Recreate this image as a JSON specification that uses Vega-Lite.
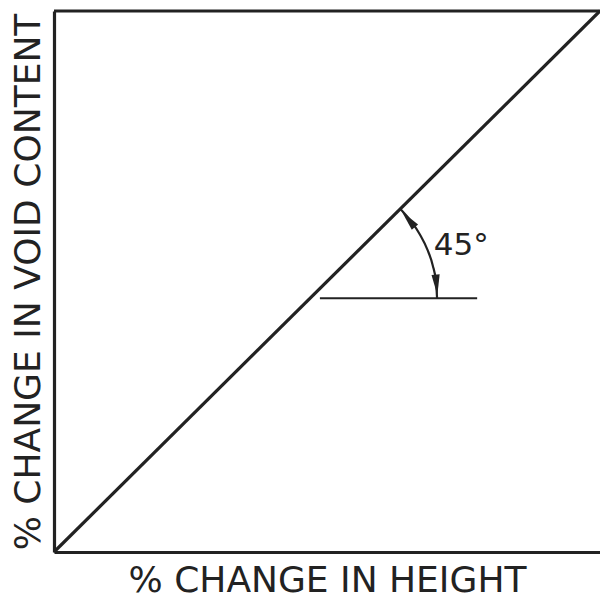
{
  "$schema": "https://vega.github.io/schema/vega-lite/v6.json",
  "autosize": "none",
  "width": 546,
  "height": 541,
  "padding": {"left": 54, "top": 11, "right": 0, "bottom": 46},
  "background": "white",
  "config": {"view": {"stroke": null}},
  "datasets": {
    "diagonal": [{"x": 0, "y": 0}, {"x": 100, "y": 100}],
    "top": [{"y": 100}],
    "horizontal": [{"x": 48.7, "y": 46.9}, {"x": 77.5, "y": 46.9}],
    "arc": [
      {"x": 70.16, "y": 46.9, "k": 0},
      {"x": 69.96, "y": 49.96, "k": 1},
      {"x": 69.37, "y": 52.98, "k": 2},
      {"x": 68.39, "y": 55.89, "k": 3},
      {"x": 67.04, "y": 58.64, "k": 4},
      {"x": 65.35, "y": 61.19, "k": 5},
      {"x": 63.35, "y": 63.5, "k": 6}
    ],
    "arrowTop": [{"x": 64.9, "y": 61.5}],
    "arrowBottom": [{"x": 70.05, "y": 49.4}],
    "label": [{"x": 74.6, "y": 56.6, "t": "45°"}]
  },
  "encoding": {
    "x": {"type": "quantitative", "scale": {"domain": [0, 100], "nice": false, "zero": false}},
    "y": {"type": "quantitative", "scale": {"domain": [0, 100], "nice": false, "zero": false}}
  },
  "layer": [
    {
      "data": {"name": "diagonal"},
      "mark": {"type": "line", "color": "#222", "strokeWidth": 3.2},
      "encoding": {
        "x": {"field": "x", "type": "quantitative",
          "axis": {"orient": "bottom", "domain": true, "domainColor": "#222", "domainWidth": 3.2, "ticks": false, "labels": false, "grid": false,
            "title": "% CHANGE IN HEIGHT", "titleFont": "DejaVu Sans", "titleFontSize": 36, "titleFontWeight": "normal", "titleColor": "#222", "titlePadding": 11}},
        "y": {"field": "y", "type": "quantitative",
          "axis": {"orient": "left", "domain": true, "domainColor": "#222", "domainWidth": 3.2, "ticks": false, "labels": false, "grid": false,
            "title": "% CHANGE IN VOID CONTENT", "titleFont": "DejaVu Sans", "titleFontSize": 36, "titleFontWeight": "normal", "titleColor": "#222", "titlePadding": 7}}
      }
    },
    {
      "data": {"name": "top"},
      "mark": {"type": "rule", "color": "#222", "strokeWidth": 3.2},
      "encoding": {"y": {"field": "y", "type": "quantitative"}}
    },
    {
      "data": {"name": "horizontal"},
      "mark": {"type": "line", "color": "#222", "strokeWidth": 2.2},
      "encoding": {
        "x": {"field": "x", "type": "quantitative"},
        "y": {"field": "y", "type": "quantitative"}
      }
    },
    {
      "data": {"name": "arc"},
      "mark": {"type": "line", "color": "#222", "strokeWidth": 2.2, "interpolate": "monotone"},
      "encoding": {
        "x": {"field": "x", "type": "quantitative"},
        "y": {"field": "y", "type": "quantitative"},
        "order": {"field": "k", "type": "quantitative"}
      }
    },
    {
      "data": {"name": "arrowTop"},
      "mark": {"type": "point", "shape": "M0,-1L0.4,1L-0.4,1Z", "filled": true, "color": "#222", "opacity": 1, "size": 420, "angle": -40},
      "encoding": {
        "x": {"field": "x", "type": "quantitative"},
        "y": {"field": "y", "type": "quantitative"}
      }
    },
    {
      "data": {"name": "arrowBottom"},
      "mark": {"type": "point", "shape": "M0,1L0.4,-1L-0.4,-1Z", "filled": true, "color": "#222", "opacity": 1, "size": 420, "angle": -5},
      "encoding": {
        "x": {"field": "x", "type": "quantitative"},
        "y": {"field": "y", "type": "quantitative"}
      }
    },
    {
      "data": {"name": "label"},
      "mark": {"type": "text", "font": "DejaVu Sans", "fontSize": 31, "color": "#222", "align": "center", "baseline": "middle"},
      "encoding": {
        "x": {"field": "x", "type": "quantitative"},
        "y": {"field": "y", "type": "quantitative"},
        "text": {"field": "t"}
      }
    }
  ]
}
